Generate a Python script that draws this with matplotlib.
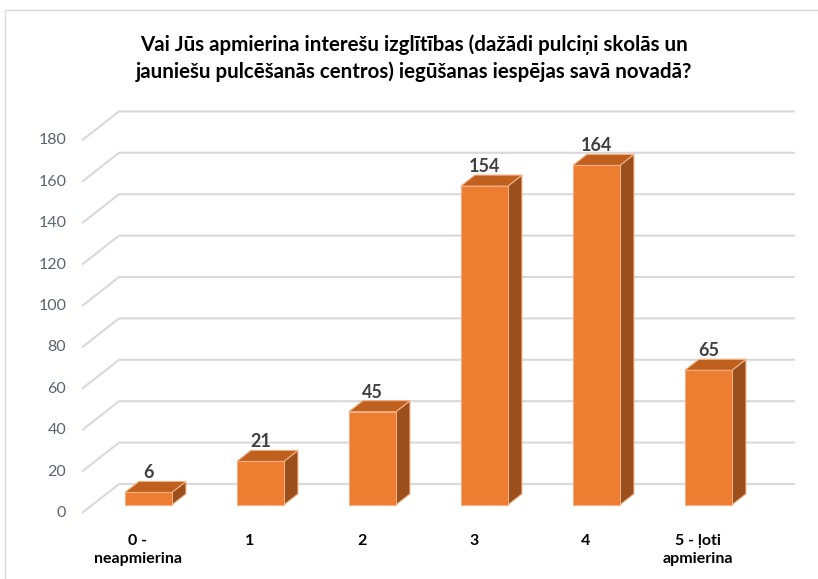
import matplotlib
matplotlib.use("Agg")
import matplotlib.pyplot as plt
from matplotlib.patches import Polygon, Rectangle

plt.rcParams["font.family"] = ["Lato", "DejaVu Sans"]

FRONT, TOP, SIDE, EDGE = "#ed7d31", "#c0601e", "#9a4f1c", "#f4b183"
GRID, TICK, INK, LABEL = "#d9d9d9", "#5b6270", "#000000", "#404040"

TITLE = ("Vai Jūs apmierina interešu izglītības (dažādi pulciņi skolās un\n"
         "jauniešu pulcēšanās centros) iegūšanas iespējas savā novadā?")
categories = ["0 -\nneapmierina", "1", "2", "3", "4", "5 - ļoti\napmierina"]
values = [6, 21, 45, 154, 164, 65]
yticks = list(range(0, 181, 20))

# pixel geometry of the oblique projection (front plane)
PX_X, X0 = 112.0, 138.0       # px per category, px of category 0
PX_Y, Y0 = 2.07, 513.0        # px per unit, px (from top) of value 0
W, H = 818, 579
DX, DY = 37 / PX_X, 29 / PX_Y  # full wall depth in data units
BAR_D0, BAR_D1, BAR_W = 0.28, 0.66, 0.42

fig = plt.figure(figsize=(W / 100, H / 100), dpi=100)
ax = fig.add_axes([0, 0, 1, 1])
ax.set_xlim(-X0 / PX_X, (W - X0) / PX_X)
ax.set_ylim((Y0 - H) / PX_Y, Y0 / PX_Y)
ax.axis("off")

# chart border
fig.patches.append(Rectangle((5 / W, -0.1), 1.1, (H - 10) / H + 0.1,
                             transform=fig.transFigure, fill=False,
                             edgecolor="#d9d9d9", linewidth=1))

# perspective gridlines
x_left, x_right = -0.5, (795 - X0) / PX_X
for t in yticks:
    ax.plot([x_left, x_left + DX, x_right], [t, t + DY, t + DY],
            color=GRID, linewidth=1.5, zorder=1, solid_capstyle="butt")
    ax.text(x_left - 0.14, t, str(t), ha="right", va="center",
            color=TICK, fontsize=11.5)

# 3d-looking bars
for i, v in enumerate(values):
    fx = i + BAR_D0 * DX - BAR_W / 2
    fy = BAR_D0 * DY
    ox, oy = (BAR_D1 - BAR_D0) * DX, (BAR_D1 - BAR_D0) * DY
    front = Rectangle((fx, fy), BAR_W, v, facecolor=FRONT, edgecolor=EDGE,
                      linewidth=0.8, zorder=3)
    top = Polygon([(fx, fy + v), (fx + BAR_W, fy + v),
                   (fx + BAR_W + ox, fy + v + oy), (fx + ox, fy + v + oy)],
                  closed=True, facecolor=TOP, edgecolor=EDGE, linewidth=0.8, zorder=3)
    side = Polygon([(fx + BAR_W, fy), (fx + BAR_W + ox, fy + oy),
                    (fx + BAR_W + ox, fy + v + oy), (fx + BAR_W, fy + v)],
                   closed=True, facecolor=SIDE, edgecolor=EDGE, linewidth=0.8, zorder=3)
    for p in (side, front, top):
        ax.add_patch(p)
    ax.text(fx + BAR_W / 2, fy + v + 9.5, str(v), ha="center", va="center",
            color=LABEL, fontsize=13, fontweight="bold", zorder=4)
    ax.text(i, -10.0, categories[i], ha="center", va="top", color=INK,
            fontsize=11.5, fontweight="bold", linespacing=1.4)

fig.text(414 / W, 1 - 58 / H, TITLE, ha="center", va="center", color=INK,
         fontsize=14.8, fontweight="bold", linespacing=1.4)

fig.savefig("out.png", dpi=100, facecolor="white")
